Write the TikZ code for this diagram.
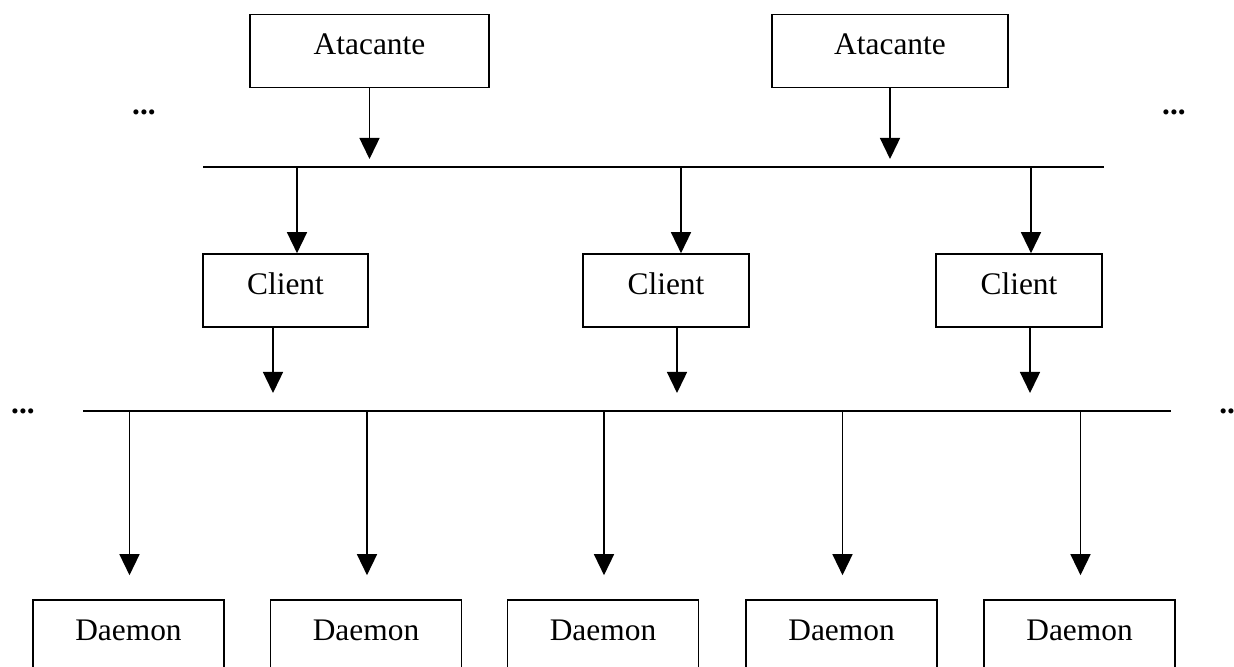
\documentclass[tikz,border=0pt]{standalone}
\usepackage{fontspec}
\setmainfont{Liberation Serif}
\usetikzlibrary{arrows.meta}
\tikzset{
  box/.style={draw, line width=0.8pt, minimum height=36.5pt,
    text height=0.7em, text depth=0.3em, font=\fontsize{15.7}{18}\selectfont},
  arr/.style={line width=0.7pt, -{Triangle[length=10.5pt,width=10pt]}},
  bus/.style={line width=0.8pt},
  more/.style={font=\fontsize{15.7}{18}\selectfont\bfseries, anchor=base}
}
\begin{document}
\begin{tikzpicture}[x=0.5pt,y=-0.5pt]
 \useasboundingbox (0,0) rectangle (1234,667);
 % attackers
 \node[box, minimum width=119.5pt] (atk1) at (369.5,51) {Atacante};
 \node[box, minimum width=118pt]   (atk2) at (890,51)   {Atacante};
 % buses
 \coordinate (bus1w) at (203,167);
 \coordinate (bus1e) at (1104,167);
 \coordinate (bus2w) at (83,411);
 \coordinate (bus2e) at (1171,411);
 \draw[bus] (bus1w) -- (bus1e);
 \draw[bus] (bus2w) -- (bus2e);
 \draw[arr, shorten >=4pt] (atk1.south) -- (atk1.south |- bus1w);
 \draw[arr, shorten >=4pt] (atk2.south) -- (atk2.south |- bus1w);
 % clients
 \node[box, minimum width=82.5pt] (cli1) at (285.5,290.5) {Client};
 \node[box, minimum width=83pt]   (cli2) at (666,290.5)   {Client};
 \node[box, minimum width=83pt]   (cli3) at (1019,290.5)  {Client};
 \foreach \i/\a/\b in {1/5.75/-6.25, 2/7.5/5.5, 3/6/5.5} {
   \draw[arr] ([xshift=\a pt]cli\i.north |- bus1w) -- ([xshift=\a pt]cli\i.north);
   \draw[arr, shorten >=9pt] ([xshift=\b pt]cli\i.south) -- ([xshift=\b pt]cli\i.south |- bus2w);
 }
 % daemons
 \foreach \i/\x in {1/128.5, 2/366, 3/603, 4/841.5, 5/1079.5} {
   \node[box, minimum width=95.5pt] (dmn\i) at (\x,636.5) {Daemon};
   \draw[arr, shorten >=12pt] ([xshift=0.5pt]dmn\i.north |- bus2w) -- ([xshift=0.5pt]dmn\i.north);
 }
 % more of the same
 \node[more] (more1) at (144,115)  {...};
 \node[more] (more2) at (1174,115) {...};
 \node[more] (more3) at (23,413)   {...};
 \node[more] (more4) at (1231,413) {...};
\end{tikzpicture}
\end{document}
